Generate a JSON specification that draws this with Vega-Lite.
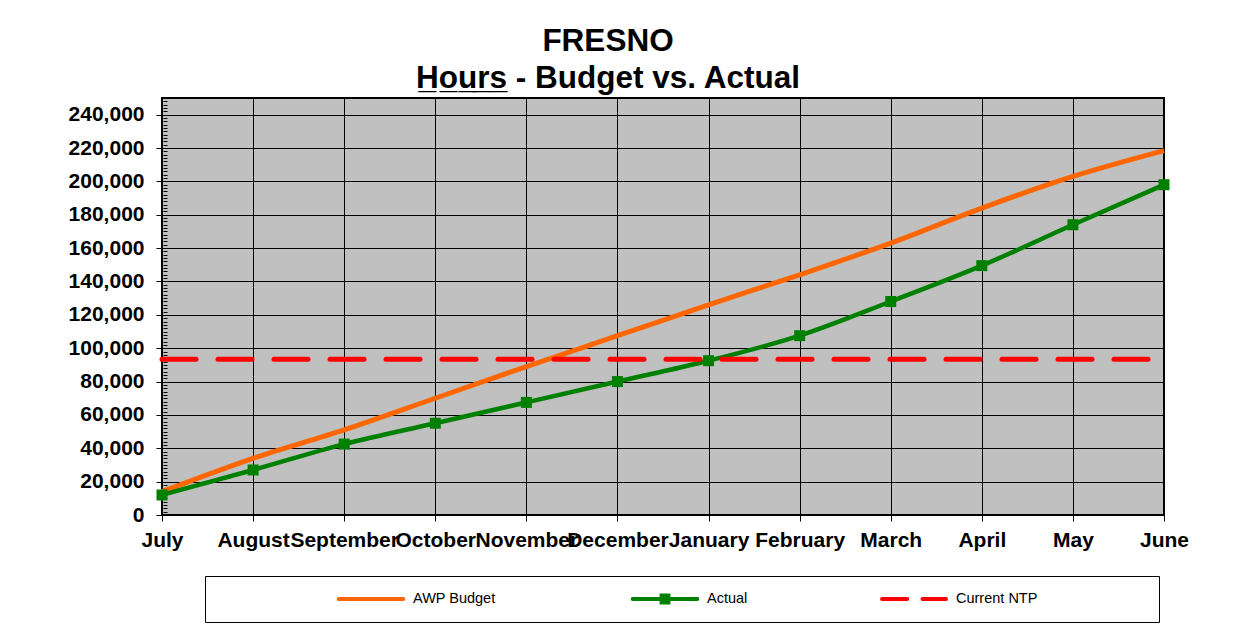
{
  "$schema": "https://vega.github.io/schema/vega-lite/v6.json",
  "width": 1002,
  "height": 417,
  "autosize": {"type": "none"},
  "padding": {"left": 162, "top": 98, "right": 85, "bottom": 116},
  "background": "white",
  "config": {
    "font": "Liberation Sans",
    "view": {"fill": "#C0C0C0", "stroke": "black", "strokeWidth": 2}
  },
  "title": {
    "text": ["FRESNO", "H̲o̲u̲r̲s̲ - Budget vs. Actual"],
    "fontSize": 31.5,
    "fontWeight": "bold",
    "font": "Liberation Sans",
    "color": "black",
    "anchor": "middle",
    "frame": "group",
    "dx": -55,
    "lineHeight": 37,
    "offset": 3
  },
  "data": {
    "values": [
      {"month": "July", "series": "AWP Budget", "value": 14000},
      {"month": "August", "series": "AWP Budget", "value": 34000},
      {"month": "September", "series": "AWP Budget", "value": 51000},
      {"month": "October", "series": "AWP Budget", "value": 70000},
      {"month": "November", "series": "AWP Budget", "value": 89000},
      {"month": "December", "series": "AWP Budget", "value": 107500},
      {"month": "January", "series": "AWP Budget", "value": 126000},
      {"month": "February", "series": "AWP Budget", "value": 144000},
      {"month": "March", "series": "AWP Budget", "value": 163000},
      {"month": "April", "series": "AWP Budget", "value": 184000},
      {"month": "May", "series": "AWP Budget", "value": 203000},
      {"month": "June", "series": "AWP Budget", "value": 218500},
      {"month": "July", "series": "Actual", "value": 12000},
      {"month": "August", "series": "Actual", "value": 27000},
      {"month": "September", "series": "Actual", "value": 42500},
      {"month": "October", "series": "Actual", "value": 55000},
      {"month": "November", "series": "Actual", "value": 67500},
      {"month": "December", "series": "Actual", "value": 80000},
      {"month": "January", "series": "Actual", "value": 92500},
      {"month": "February", "series": "Actual", "value": 107500},
      {"month": "March", "series": "Actual", "value": 128000},
      {"month": "April", "series": "Actual", "value": 149500},
      {"month": "May", "series": "Actual", "value": 174000},
      {"month": "June", "series": "Actual", "value": 198000},
      {"month": "July", "series": "Current NTP", "value": 93400},
      {"month": "August", "series": "Current NTP", "value": 93400},
      {"month": "September", "series": "Current NTP", "value": 93400},
      {"month": "October", "series": "Current NTP", "value": 93400},
      {"month": "November", "series": "Current NTP", "value": 93400},
      {"month": "December", "series": "Current NTP", "value": 93400},
      {"month": "January", "series": "Current NTP", "value": 93400},
      {"month": "February", "series": "Current NTP", "value": 93400},
      {"month": "March", "series": "Current NTP", "value": 93400},
      {"month": "April", "series": "Current NTP", "value": 93400},
      {"month": "May", "series": "Current NTP", "value": 93400},
      {"month": "June", "series": "Current NTP", "value": 93400}
    ]
  },
  "encoding": {
    "x": {
      "field": "month",
      "type": "ordinal",
      "sort": ["July", "August", "September", "October", "November", "December", "January", "February", "March", "April", "May", "June"],
      "scale": {"type": "point", "padding": 0},
      "axis": {
        "title": null,
        "labelAngle": 0,
        "labelOverlap": false,
        "grid": true,
        "gridColor": "black",
        "gridOpacity": 1,
        "gridWidth": 1,
        "domain": false,
        "tickSize": 6,
        "tickColor": "black",
        "labelFont": "Liberation Sans",
        "labelFontSize": 21,
        "labelFontWeight": "bold",
        "labelColor": "black",
        "labelPadding": 8
      }
    }
  },
  "resolve": {"axis": {"y": "independent"}},
  "layer": [
    {
      "transform": [{"filter": "datum.series === 'AWP Budget'"}],
      "mark": {"type": "line", "interpolate": "monotone", "strokeWidth": 5},
      "encoding": {
        "y": {
          "field": "value",
          "type": "quantitative",
          "scale": {"domain": [0, 250000], "nice": false, "zero": true},
          "axis": {
            "orient": "left",
            "title": null,
            "values": [0, 20000, 40000, 60000, 80000, 100000, 120000, 140000, 160000, 180000, 200000, 220000, 240000],
            "format": ",d",
            "grid": true,
            "gridColor": "black",
            "gridOpacity": 1,
            "gridWidth": 1,
            "domain": false,
            "tickSize": 6,
            "tickColor": "black",
            "labelFont": "Liberation Sans",
            "labelFontSize": 21,
            "labelFontWeight": "bold",
            "labelColor": "black",
            "labelPadding": 12
          }
        },
        "color": {
          "field": "series",
          "type": "nominal",
          "scale": {"domain": ["AWP Budget", "Actual", "Current NTP"], "range": ["#FF6600", "#008000", "#FF0000"]},
          "legend": {
            "orient": "none",
            "legendX": 43,
            "legendY": 478,
            "direction": "horizontal",
            "title": " ",
            "titleOrient": "left",
            "titleFontSize": 1,
            "titlePadding": 115,
            "padding": 15,
            "strokeColor": "black",
            "fillColor": "white",
            "symbolType": "stroke",
            "symbolSize": 4624,
            "symbolStrokeWidth": 4,
            "clipHeight": 16,
            "labelFont": "Liberation Sans",
            "labelFontSize": 14.5,
            "labelColor": "black",
            "labelOffset": 6,
            "labelLimit": 300,
            "columnPadding": 0,
            "encode": {
              "entries": {
                "update": {
                  "width": {"signal": "datum.index === 0 ? 294 : datum.index === 1 ? 249 : 266"}
                }
              },
              "symbols": {
                "update": {
                  "shape": {"signal": "datum.value === 'Actual' ? 'M-0.95,0H0.95M-0.1,-0.1H0.1V0.1H-0.1Z' : datum.value === 'Current NTP' ? 'M-0.94,0H-0.2M0.25,0H0.94' : 'M-0.95,0H0.95'"},
                  "fill": {"signal": "datum.value === 'Actual' ? '#008000' : 'transparent'"},
                  "strokeCap": {"value": "round"}
                }
              }
            }
          }
        }
      }
    },
    {
      "transform": [{"filter": "datum.series === 'Actual'"}],
      "mark": {"type": "line", "interpolate": "monotone", "strokeWidth": 4.5},
      "encoding": {
        "y": {"field": "value", "type": "quantitative", "scale": {"domain": [0, 250000], "nice": false}, "axis": null},
        "color": {"field": "series", "type": "nominal"}
      }
    },
    {
      "transform": [{"filter": "datum.series === 'Actual'"}],
      "mark": {"type": "point", "shape": "square", "filled": true, "size": 121, "opacity": 1},
      "encoding": {
        "y": {"field": "value", "type": "quantitative", "scale": {"domain": [0, 250000], "nice": false}, "axis": null},
        "color": {"value": "#008000"}
      }
    },
    {
      "transform": [{"filter": "datum.series === 'Current NTP'"}],
      "mark": {"type": "line", "strokeWidth": 5, "strokeDash": [34, 22], "strokeCap": "round"},
      "encoding": {
        "y": {
          "field": "value",
          "type": "quantitative",
          "scale": {"domain": [0, 250000], "nice": false},
          "axis": {
            "orient": "left",
            "title": null,
            "tickCount": 125,
            "labels": false,
            "grid": false,
            "domain": false,
            "tickSize": 4,
            "offset": -5,
            "tickColor": "black",
            "tickWidth": 1
          }
        },
        "color": {"field": "series", "type": "nominal"}
      }
    }
  ]
}
